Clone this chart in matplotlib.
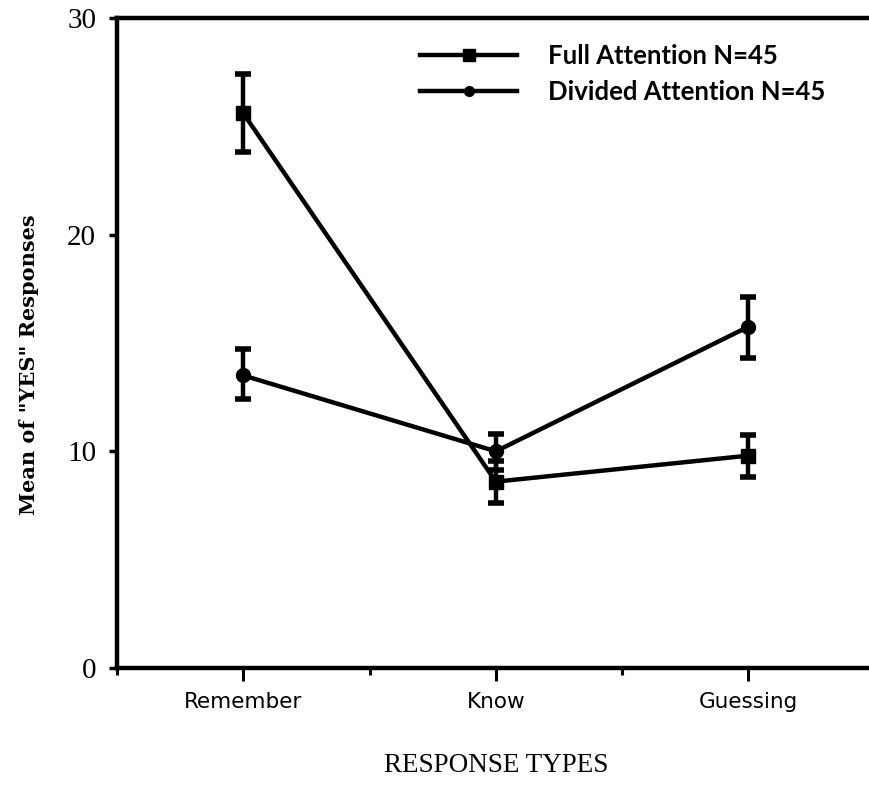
import matplotlib.pyplot as plt
import numpy as np
from matplotlib.lines import Line2D

categories = ["Remember", "Know", "Guessing"]
full_mean = [25.6, 8.6, 9.8]
full_err_low = [23.8, 7.6, 8.8]
full_err_high = [27.4, 9.55, 10.75]
divided_mean = [13.5, 10.0, 15.75]
divided_err_low = [12.4, 9.15, 14.3]
divided_err_high = [14.7, 10.8, 17.1]
y_ticks = [0, 10, 20, 30]
labels = ["Full Attention N=45", "Divided Attention N=45"]

fig = plt.figure(figsize=(8.69, 8.08), dpi=100)
ax = fig.add_axes([0.1346, 0.1733, 0.872, 0.8045])

x = np.arange(1, len(categories) + 1)


def draw_series(mean, low, high, marker, msize):
    mean = np.array(mean)
    yerr = [mean - np.array(low), np.array(high) - mean]
    ax.errorbar(x, mean, yerr=yerr, color="black", lw=3.2, elinewidth=3.2,
                capsize=5.5, capthick=4, marker=marker, markersize=msize,
                solid_capstyle="round")


draw_series(full_mean, full_err_low, full_err_high, "s", 10)
draw_series(divided_mean, divided_err_low, divided_err_high, "o", 10)

ax.set_xlim(0.5, 3.5)
ax.set_ylim(0, 30)
ax.set_yticks(y_ticks)
ax.set_yticklabels([str(v) for v in y_ticks], family="Liberation Serif", fontsize=21)
ax.set_xticks(x)
ax.set_xticklabels(categories, family="DejaVu Sans", fontsize=15.5)
ax.set_xticks([0.5, 1.5, 2.5], minor=True)
ax.tick_params(axis="x", which="major", direction="out", length=9, width=2.2, pad=8)
ax.tick_params(axis="x", which="minor", direction="out", length=5, width=2.2)
ax.tick_params(axis="y", direction="out", length=6, width=2.5, pad=9)

for side in ["left", "bottom", "top"]:
    ax.spines[side].set_linewidth(3.2)
ax.spines["right"].set_visible(False)

ax.set_ylabel('Mean of "YES" Responses', family="DejaVu Serif", weight="bold",
              fontsize=15)
ax.yaxis.set_label_coords(-0.103, 0.466)
ax.set_xlabel("RESPONSE TYPES", family="Liberation Serif", fontsize=19.5, labelpad=30)

handles = [Line2D([], [], color="black", lw=3.2, marker="s", markersize=8),
           Line2D([], [], color="black", lw=3.2, marker="o", markersize=7)]
ax.legend(handles, labels, loc="upper left", bbox_to_anchor=(0.369, 0.995),
          frameon=False, handlelength=3.8, handletextpad=1.2, labelspacing=0.45,
          prop={"family": "Lato", "weight": "bold", "size": 18.5})

fig.savefig("out.png", dpi=100)
